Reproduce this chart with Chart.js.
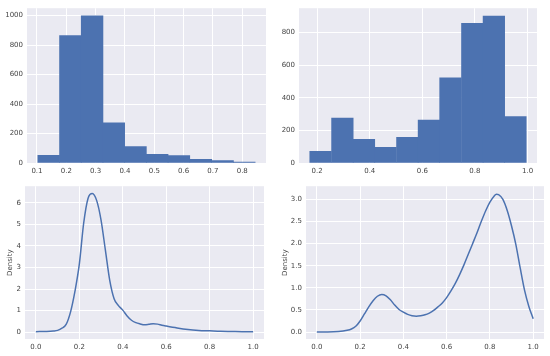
<html lang="en">
<head>
  <meta charset="UTF-8">
  <title>Histograms and densities</title>
  <script src="https://cdn.jsdelivr.net/npm/chart.js@4.4.1/dist/chart.umd.min.js"></script>
  <style>
    body { margin: 0; background: #fff; }
    #wrap { position: relative; width: 550px; height: 356px; }
    canvas { position: absolute; }
  </style>
</head>
<body>
  <div id="wrap">
    <canvas id="histLeft" width="270" height="180" style="left:0;top:0"></canvas>
    <canvas id="histRight" width="275" height="180" style="left:275px;top:0"></canvas>
    <canvas id="kdeLeft" width="270" height="178" style="left:0;top:178px"></canvas>
    <canvas id="kdeRight" width="275" height="178" style="left:275px;top:178px"></canvas>
  </div>
  <script>
    // top left histogram (bin centres and counts)
    const leftBins = [0.140, 0.214, 0.288, 0.362, 0.436, 0.510, 0.584, 0.659, 0.733, 0.807]
    const leftCounts = [52, 865, 998, 273, 111, 59, 50, 25, 16, 7]
    const leftHistXTicks = [0.1, 0.2, 0.3, 0.4, 0.5, 0.6, 0.7, 0.8]
    const leftHistYTicks = [0, 200, 400, 600, 800, 1000]

    // top right histogram
    const rightBins = [0.213, 0.296, 0.378, 0.460, 0.543, 0.625, 0.707, 0.790, 0.872, 0.954]
    const rightCounts = [71, 275, 145, 96, 157, 263, 523, 857, 902, 285]
    const rightHistXTicks = [0.2, 0.4, 0.6, 0.8, 1.0]
    const rightHistYTicks = [0, 200, 400, 600, 800]

    // bottom left density
    const leftKdeX = [0, 0.05, 0.08, 0.1, 0.12, 0.14, 0.16, 0.18, 0.2, 0.22, 0.24, 0.26, 0.28, 0.3, 0.32, 0.34, 0.36, 0.38, 0.4,
      0.42, 0.44, 0.46, 0.48, 0.5, 0.52, 0.54, 0.56, 0.58, 0.6, 0.65, 0.7, 0.75, 0.8, 0.85, 0.9, 0.95, 1.0]
    const leftKdeY = [0.02, 0.03, 0.05, 0.08, 0.18, 0.37, 0.95, 1.9, 3.15, 5.05, 6.2, 6.43, 6.1, 5.2, 3.8, 2.4, 1.55, 1.23, 1.02,
      0.75, 0.55, 0.44, 0.38, 0.34, 0.36, 0.39, 0.37, 0.32, 0.28, 0.19, 0.12, 0.08, 0.06, 0.04, 0.03, 0.02, 0.02]
    const leftKdeYTicks = [0, 1, 2, 3, 4, 5, 6]

    // bottom right density
    const rightKdeX = [0, 0.05, 0.1, 0.14, 0.16, 0.18, 0.2, 0.22, 0.24, 0.26, 0.28, 0.3, 0.32, 0.34, 0.36, 0.38, 0.4, 0.42, 0.44,
      0.46, 0.48, 0.5, 0.52, 0.54, 0.56, 0.58, 0.6, 0.62, 0.64, 0.66, 0.68, 0.7, 0.72, 0.74, 0.76, 0.78, 0.8, 0.82, 0.83, 0.84,
      0.86, 0.88, 0.9, 0.92, 0.94, 0.96, 0.98, 1.0]
    const rightKdeY = [0, 0, 0.01, 0.04, 0.07, 0.13, 0.25, 0.41, 0.57, 0.71, 0.81, 0.85, 0.82, 0.73, 0.61, 0.51, 0.45, 0.4, 0.37,
      0.36, 0.37, 0.39, 0.43, 0.49, 0.57, 0.66, 0.78, 0.93, 1.1, 1.3, 1.52, 1.76, 2.0, 2.24, 2.5, 2.74, 2.94, 3.08, 3.12, 3.11,
      3.0, 2.75, 2.4, 1.98, 1.45, 0.95, 0.58, 0.3]
    const rightKdeYTicks = [0, 0.5, 1.0, 1.5, 2.0, 2.5, 3.0]
    const kdeXTicks = [0, 0.2, 0.4, 0.6, 0.8, 1.0]

    const blue = "#4c72b0"
    const tickFont = { family: "DejaVu Sans", size: 7 }

    const panelBg = {
      id: "panelBg",
      beforeDraw(chart) {
        const a = chart.chartArea
        chart.ctx.save()
        chart.ctx.fillStyle = "#eaeaf2"
        chart.ctx.fillRect(a.left, a.top, a.right - a.left, a.bottom - a.top)
        chart.ctx.restore()
      }
    }

    const axis = (min, max, ticks, digits, size) => ({
      type: "linear",
      min,
      max,
      offset: false,
      afterBuildTicks: s => { s.ticks = ticks.map(v => ({ value: v })) },
      afterFit: s => {
        if (s.isHorizontal()) s.height = size
        else s.width = size
      },
      border: { display: false },
      grid: { color: "#ffffff", lineWidth: 1, drawTicks: false, offset: false },
      ticks: {
        font: tickFont,
        color: "#444",
        padding: 4,
        autoSkip: false,
        maxRotation: 0,
        callback: v => v.toFixed(digits)
      }
    })

    const makeChart = (id, type, data, x, y, pad, title) => {
      if (title) {
        y.title = { display: true, text: title, font: tickFont, color: "#444", padding: { top: 6, bottom: 0 } }
      }
      return new Chart(document.getElementById(id), {
        type,
        data,
        plugins: [panelBg],
        options: {
          responsive: false,
          animation: false,
          layout: { autoPadding: false, padding: pad },
          plugins: { legend: { display: false }, tooltip: { enabled: false } },
          scales: { x, y }
        }
      })
    }

    const barSet = (xs, ys) => ({
      datasets: [{
        data: xs.map((v, i) => ({ x: v, y: ys[i] })),
        backgroundColor: blue,
        borderWidth: 0,
        barPercentage: 1,
        categoryPercentage: 1
      }]
    })

    const lineSet = (xs, ys) => ({
      datasets: [{
        data: xs.map((v, i) => ({ x: v, y: ys[i] })),
        borderColor: blue,
        borderWidth: 1.5,
        pointRadius: 0,
        cubicInterpolationMode: "monotone",
        fill: false
      }]
    })

    makeChart("histLeft", "bar", barSet(leftBins, leftCounts),
      axis(0.066, 0.881, leftHistXTicks, 1, 17), axis(0, 1050, leftHistYTicks, 0, 27),
      { top: 7, right: 4, left: 0, bottom: 0 })

    makeChart("histRight", "bar", barSet(rightBins, rightCounts),
      axis(0.131, 1.036, rightHistXTicks, 1, 17), axis(0, 950, rightHistYTicks, 0, 24),
      { top: 7, right: 13, left: 0, bottom: 0 })

    makeChart("kdeLeft", "line", lineSet(leftKdeX, leftKdeY),
      axis(-0.05, 1.05, kdeXTicks, 1, 17), axis(-0.32, 6.77, leftKdeYTicks, 0, 25),
      { top: 6, right: 6, left: 0, bottom: 0 }, "Density")

    makeChart("kdeRight", "line", lineSet(rightKdeX, rightKdeY),
      axis(-0.05, 1.05, kdeXTicks, 1, 17), axis(-0.157, 3.3, rightKdeYTicks, 1, 31),
      { top: 6, right: 6, left: 0, bottom: 0 }, "Density")
  </script>
</body>
</html>
